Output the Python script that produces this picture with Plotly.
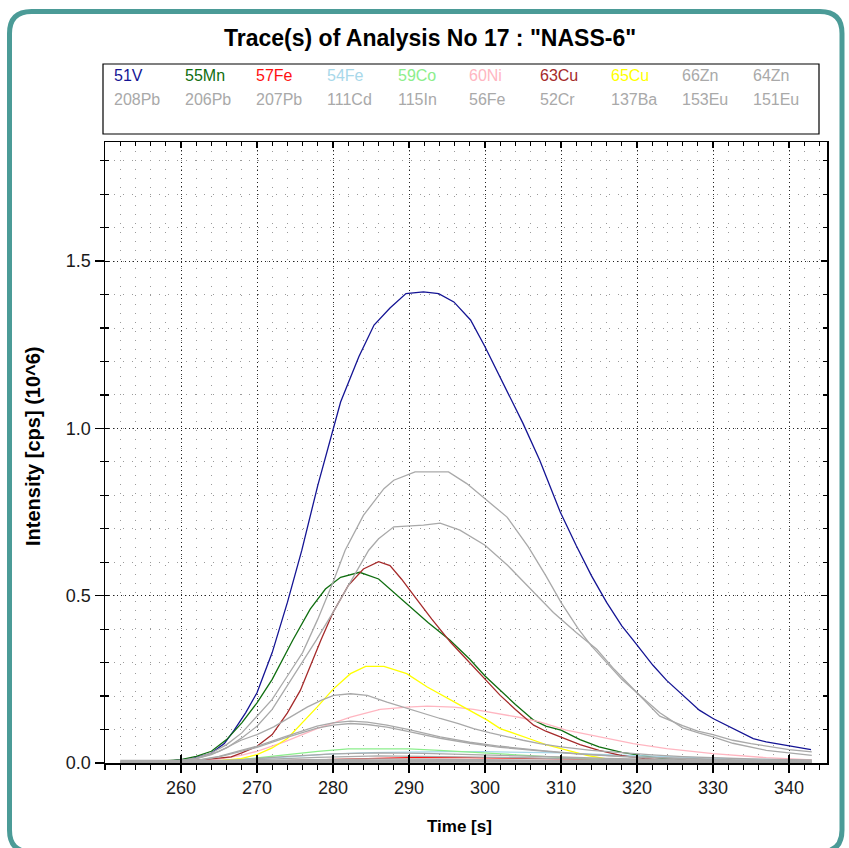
import plotly.graph_objects as go

# ---------------- data ----------------
NAMES = ["51V", "55Mn", "57Fe", "54Fe", "59Co", "60Ni", "63Cu", "65Cu", "66Zn", "64Zn",
         "208Pb", "206Pb", "207Pb", "111Cd", "115In", "56Fe", "52Cr", "137Ba", "153Eu", "151Eu"]
COLORS = ["#141494", "#0f6e0f", "#ff1010", "#a8d8ea", "#8cee8c", "#ffb6c1", "#a52a2a", "#ffff00",
          "#a9a9a9", "#a9a9a9", "#a9a9a9", "#a9a9a9", "#a9a9a9", "#a9a9a9", "#a9a9a9",
          "#a9a9a9", "#a9a9a9", "#a9a9a9", "#a9a9a9", "#a9a9a9"]

T_51V = [252, 255, 256.7, 258.7, 261.3, 263.9, 265.7, 267, 268.5, 270, 272, 274, 275.9, 278, 280.1, 281,
         283.4, 285.4, 287.5, 289.6, 291.9, 293.9, 295.9, 298.1, 300, 302.4, 305, 307.2, 309.9, 312, 314,
         316, 318, 319.5, 322.1, 323.9, 325.8, 328.2, 330, 332.6, 335.3, 337, 340.1, 342.9]
V_51V = [0.002, 0.002, 0.003, 0.006, 0.013, 0.028, 0.058, 0.098, 0.15, 0.21, 0.33, 0.48, 0.636, 0.83, 1.005,
         1.079, 1.214, 1.309, 1.36, 1.403, 1.408, 1.403, 1.378, 1.324, 1.244, 1.134, 1.015, 0.905, 0.75,
         0.65, 0.56, 0.48, 0.41, 0.367, 0.292, 0.247, 0.207, 0.158, 0.133, 0.103, 0.073, 0.063, 0.05, 0.04]

T_55Mn = [252, 256, 260, 262, 264, 266, 268, 270, 272, 274.7, 277, 279, 281, 283.5, 286, 288, 290, 292.5,
          295.4, 298, 300, 302, 304, 306.4, 308, 310, 312.5, 315, 318, 320.4, 323, 326.5, 330, 335, 340, 343]
V_55Mn = [0.001, 0.003, 0.01, 0.02, 0.035, 0.07, 0.12, 0.18, 0.25, 0.367, 0.46, 0.52, 0.555, 0.57, 0.55, 0.51,
          0.47, 0.42, 0.367, 0.31, 0.26, 0.217, 0.175, 0.128, 0.11, 0.098, 0.07, 0.048, 0.032, 0.023, 0.015,
          0.008, 0.005, 0.003, 0.002, 0.002]

T_57Fe = [252, 266, 270, 275, 280, 285, 290, 295, 300, 305, 310, 315, 320, 330, 343]
V_57Fe = [0.0, 0.003, 0.005, 0.008, 0.011, 0.014, 0.016, 0.017, 0.016, 0.015, 0.013, 0.011, 0.009, 0.006, 0.004]

T_54Fe = [252, 262, 266, 270, 275, 280, 285, 290, 295, 300, 305, 310, 315, 320, 325, 330, 335, 340, 343]
V_54Fe = [0.0, 0.002, 0.006, 0.012, 0.02, 0.027, 0.031, 0.033, 0.034, 0.034, 0.033, 0.03, 0.026, 0.022,
          0.018, 0.014, 0.011, 0.009, 0.008]

T_59Co = [252, 262, 266, 270, 274, 278, 282, 286, 290, 294, 298, 302, 306, 310, 315, 320, 330, 343]
V_59Co = [0.0, 0.003, 0.008, 0.015, 0.025, 0.035, 0.042, 0.043, 0.042, 0.038, 0.033, 0.028, 0.022, 0.016,
          0.01, 0.007, 0.004, 0.002]

T_60Ni = [252, 258, 262, 265, 267.9, 270, 273.6, 277.9, 282.3, 286.2, 289.7, 292.4, 295.9, 298.5, 302, 304.6,
          307.2, 310.7, 315.1, 319.5, 323.9, 330, 337, 343]
V_60Ni = [0.001, 0.003, 0.006, 0.012, 0.023, 0.035, 0.063, 0.103, 0.137, 0.16, 0.167, 0.17, 0.167, 0.16,
          0.146, 0.136, 0.123, 0.098, 0.078, 0.058, 0.043, 0.028, 0.016, 0.009]

T_63Cu = [252, 256, 260, 263, 266.6, 268, 270, 272, 274, 275.7, 277, 278.4, 280, 282, 284, 286, 287.5, 289,
          291, 293, 295.5, 298, 300, 302, 304, 306.4, 308, 310, 312.5, 315, 318, 321, 325, 330, 343]
V_63Cu = [0.002, 0.003, 0.005, 0.01, 0.018, 0.03, 0.05, 0.085, 0.15, 0.217, 0.29, 0.367, 0.45, 0.53, 0.58,
          0.602, 0.59, 0.55, 0.49, 0.43, 0.36, 0.3, 0.25, 0.202, 0.16, 0.113, 0.095, 0.078, 0.055, 0.038,
          0.022, 0.013, 0.007, 0.004, 0.002]

T_65Cu = [252, 260, 264, 267.9, 270, 272, 274, 276, 277.9, 280, 282.3, 284.3, 286.7, 289.7, 292.4, 296.3,
          300.3, 302, 304, 306.4, 308, 310.7, 313.4, 316, 320, 325, 343]
V_65Cu = [0.001, 0.002, 0.005, 0.013, 0.025, 0.045, 0.073, 0.12, 0.167, 0.22, 0.267, 0.289, 0.289, 0.267,
          0.227, 0.178, 0.128, 0.103, 0.088, 0.068, 0.055, 0.038, 0.023, 0.012, 0.007, 0.004, 0.002]

T_66Zn = [252, 256, 260, 262, 264, 266, 268, 270, 272, 274, 276, 278, 280, 281.6, 284, 286.7, 288, 290.8,
          295.2, 297.6, 300.2, 302.9, 305.7, 308, 310, 312.3, 314, 316, 318, 320, 323, 326, 328, 330,
          332.6, 335, 337, 340, 343]
V_66Zn = [0.002, 0.003, 0.008, 0.015, 0.03, 0.055, 0.09, 0.14, 0.19, 0.26, 0.33, 0.43, 0.54, 0.636, 0.74, 0.82,
          0.845, 0.87, 0.87, 0.835, 0.785, 0.735, 0.646, 0.56, 0.48, 0.40, 0.35, 0.30, 0.25, 0.21, 0.14,
          0.112, 0.095, 0.085, 0.068, 0.058, 0.05, 0.04, 0.033]

T_64Zn = [252, 256, 260, 262, 264, 266, 268, 270, 272, 274, 276, 277.8, 280, 282, 284.7, 286, 288, 291.9,
          294.1, 296.7, 300, 303, 306, 309, 312, 314.7, 317, 320, 323, 326, 328.2, 330, 332.6,
          335, 337, 340, 343]
V_64Zn = [0.002, 0.003, 0.007, 0.013, 0.025, 0.045, 0.075, 0.11, 0.16, 0.23, 0.30, 0.367, 0.45, 0.53, 0.636,
          0.67, 0.706, 0.711, 0.717, 0.696, 0.651, 0.59, 0.52, 0.45, 0.39, 0.34, 0.28, 0.21,
          0.15, 0.105, 0.089, 0.078, 0.059, 0.048, 0.038, 0.03, 0.023]

T_208Pb = [252, 258, 262, 265, 267.9, 270, 272.2, 274.5, 276.6, 278.5, 280.1, 282.3, 284.5, 287.1, 289.7,
           292, 294.1, 296.5, 298.5, 300.7, 302.9, 305, 307.2, 310, 314, 318, 322, 326, 330, 335, 340, 343]
V_208Pb = [0.002, 0.004, 0.012, 0.035, 0.068, 0.085, 0.108, 0.14, 0.167, 0.188, 0.202, 0.207, 0.202, 0.182,
           0.163, 0.148, 0.133, 0.118, 0.103, 0.09, 0.078, 0.068, 0.058, 0.048, 0.038, 0.03, 0.024, 0.019,
           0.015, 0.012, 0.01, 0.009]

T_206Pb = [252, 258, 262, 265, 267.9, 270, 273.6, 277.9, 280, 282.3, 284.5, 287.1, 290, 294.1, 298, 302,
           307.2, 312, 318, 325, 333, 343]
V_206Pb = [0.001, 0.003, 0.008, 0.02, 0.038, 0.05, 0.078, 0.11, 0.12, 0.125, 0.122, 0.113, 0.1, 0.078,
           0.062, 0.05, 0.038, 0.028, 0.02, 0.014, 0.009, 0.006]

T_207Pb = [252, 258, 262, 265, 267.9, 270, 273.6, 277.9, 280, 282.3, 284.5, 287.1, 290, 294.1, 298, 302,
           307.2, 312, 318, 325, 333, 343]
V_207Pb = [0.001, 0.003, 0.007, 0.018, 0.035, 0.047, 0.074, 0.104, 0.113, 0.118, 0.115, 0.107, 0.094, 0.074,
           0.059, 0.047, 0.036, 0.027, 0.019, 0.013, 0.008, 0.005]

T_111Cd = [252, 270, 285, 300, 320, 343]
V_111Cd = [0.001, 0.002, 0.004, 0.003, 0.002, 0.001]

T_115In = [252, 270, 290, 310, 330, 343]
V_115In = [0.008, 0.008, 0.007, 0.007, 0.006, 0.006]

T_56Fe = [252, 262, 268, 274, 280, 286, 292, 298, 304, 310, 316, 322, 330, 343]
V_56Fe = [0.001, 0.003, 0.01, 0.02, 0.027, 0.03, 0.029, 0.026, 0.022, 0.018, 0.014, 0.011, 0.008, 0.005]

T_52Cr = [252, 262, 270, 278, 286, 294, 302, 310, 320, 330, 343]
V_52Cr = [0.002, 0.004, 0.01, 0.017, 0.021, 0.02, 0.017, 0.013, 0.009, 0.006, 0.004]

T_137Ba = [252, 265, 275, 285, 295, 305, 315, 330, 343]
V_137Ba = [0.004, 0.005, 0.009, 0.012, 0.011, 0.009, 0.007, 0.005, 0.004]

T_153Eu = [252, 270, 285, 300, 320, 343]
V_153Eu = [0.003, 0.004, 0.006, 0.005, 0.004, 0.003]

T_151Eu = [252, 270, 285, 300, 320, 343]
V_151Eu = [0.003, 0.005, 0.007, 0.006, 0.004, 0.003]

SERIES = {
    "51V": (T_51V, V_51V), "55Mn": (T_55Mn, V_55Mn), "57Fe": (T_57Fe, V_57Fe), "54Fe": (T_54Fe, V_54Fe),
    "59Co": (T_59Co, V_59Co), "60Ni": (T_60Ni, V_60Ni), "63Cu": (T_63Cu, V_63Cu), "65Cu": (T_65Cu, V_65Cu),
    "66Zn": (T_66Zn, V_66Zn), "64Zn": (T_64Zn, V_64Zn), "208Pb": (T_208Pb, V_208Pb),
    "206Pb": (T_206Pb, V_206Pb), "207Pb": (T_207Pb, V_207Pb), "111Cd": (T_111Cd, V_111Cd),
    "115In": (T_115In, V_115In), "56Fe": (T_56Fe, V_56Fe), "52Cr": (T_52Cr, V_52Cr),
    "137Ba": (T_137Ba, V_137Ba), "153Eu": (T_153Eu, V_153Eu), "151Eu": (T_151Eu, V_151Eu),
}

X_TICKS = [260, 270, 280, 290, 300, 310, 320, 330, 340]
Y_TICKS = [0.0, 0.5, 1.0, 1.5]
Y_TICK_LABELS = ["0.0", "0.5", "1.0", "1.5"]

TITLE = 'Trace(s) of Analysis No 17 : "NASS-6"'
X_TITLE = "Time [s]"
Y_TITLE = "Intensity [cps] (10^6)"

# ---------------- layout geometry ----------------
FW, FH = 849, 848
L, R, T, B = 105, 827, 142, 763
PW, PH = R - L, B - T
FONT = "Liberation Sans, Arial, sans-serif"


def px2x(px):
    return (px - L) / PW


def py2y(py):
    return (B - py) / PH


fig = go.Figure()

for name in NAMES:
    t, v = SERIES[name]
    col = COLORS[NAMES.index(name)]
    fig.add_trace(go.Scatter(x=t, y=v, mode="lines", name=name,
                             line=dict(color=col, width=1.3), showlegend=False,
                             hoverinfo="skip"))

# empty traces to activate the overlay axes
fig.add_trace(go.Scatter(x=[None], y=[None], xaxis="x2", yaxis="y", showlegend=False, hoverinfo="skip"))
fig.add_trace(go.Scatter(x=[None], y=[None], xaxis="x3", yaxis="y", showlegend=False, hoverinfo="skip"))
fig.add_trace(go.Scatter(x=[None], y=[None], xaxis="x", yaxis="y2", showlegend=False, hoverinfo="skip"))
fig.add_trace(go.Scatter(x=[None], y=[None], xaxis="x", yaxis="y3", showlegend=False, hoverinfo="skip"))

XR = [250, 345]
YR = [0, 1.856]

tickfont = dict(family=FONT, size=18, color="#1a1a1a")

fig.update_layout(
    width=FW, height=FH,
    margin=dict(l=L, r=FW - R, t=T, b=FH - B),
    paper_bgcolor="white", plot_bgcolor="white",
    showlegend=False,
    xaxis=dict(range=XR, tickmode="array", tickvals=X_TICKS, ticktext=[str(v) for v in X_TICKS],
               ticks="outside", ticklen=8, tickwidth=1.3, tickcolor="black",
               showline=True, linecolor="black", linewidth=1.5,
               showgrid=True, gridcolor="#222", griddash="1px,3px", gridwidth=1,
               minor=dict(tick0=250, dtick=2, ticks="outside", ticklen=5, tickwidth=1.2, tickcolor="black",
                          showgrid=True, gridcolor="#9a9a9a", griddash="1px,8px", gridwidth=1),
               zeroline=False, tickfont=tickfont, fixedrange=True),
    xaxis2=dict(range=XR, overlaying="x", side="bottom", anchor="y", tickmode="array", tickvals=X_TICKS,
                ticks="inside", ticklen=8, tickwidth=1.3, tickcolor="black", showticklabels=False,
                showgrid=False, zeroline=False, showline=False),
    xaxis3=dict(range=XR, overlaying="x", side="top", anchor="y", tickmode="array", tickvals=X_TICKS,
                ticks="inside", ticklen=6, tickwidth=1.3, tickcolor="black", showticklabels=False,
                minor=dict(tick0=250, dtick=2, ticks="inside", ticklen=4, tickwidth=1.2, tickcolor="black"),
                showgrid=False, zeroline=False, showline=True, linecolor="black", linewidth=1.5),
    yaxis=dict(range=YR, tickmode="array", tickvals=Y_TICKS, ticktext=Y_TICK_LABELS,
               ticks="outside", ticklen=9, tickwidth=1.3, tickcolor="black",
               showline=True, linecolor="black", linewidth=1.5,
               showgrid=True, gridcolor="#222", griddash="1px,3px", gridwidth=1,
               minor=dict(tick0=0, dtick=0.1, ticks="outside", ticklen=4, tickwidth=1.2, tickcolor="black",
                          showgrid=True, gridcolor="#9a9a9a", griddash="1px,8px", gridwidth=1),
               zeroline=False, tickfont=tickfont, fixedrange=True),
    yaxis2=dict(range=YR, overlaying="y", side="left", anchor="x", tick0=0, dtick=0.1,
                ticks="inside", ticklen=4, tickwidth=1.2, tickcolor="black", showticklabels=False,
                showgrid=False, zeroline=False, showline=False),
    yaxis3=dict(range=YR, overlaying="y", side="right", anchor="x", tickmode="array", tickvals=Y_TICKS,
                ticks="inside", ticklen=6, tickwidth=1.3, tickcolor="black", showticklabels=False,
                minor=dict(tick0=0, dtick=0.1, ticks="inside", ticklen=4, tickwidth=1.2, tickcolor="black"),
                showgrid=False, zeroline=False, showline=True, linecolor="black", linewidth=1.5),
)

# title
fig.add_annotation(text="<b>" + TITLE + "</b>", xref="paper", yref="paper",
                   x=px2x(430), y=py2y(38), xanchor="center", yanchor="middle", showarrow=False,
                   font=dict(family=FONT, size=23, color="black"))
# axis titles
fig.add_annotation(text="<b>" + X_TITLE + "</b>", xref="paper", yref="paper",
                   x=px2x(459), y=py2y(826), xanchor="center", yanchor="middle", showarrow=False,
                   font=dict(family=FONT, size=17, color="black"))
fig.add_annotation(text="<b>" + Y_TITLE + "</b>", xref="paper", yref="paper",
                   x=px2x(33), y=py2y(446), xanchor="center", yanchor="middle", showarrow=False,
                   textangle=-90, font=dict(family=FONT, size=20, color="black"))

# legend box and entries
fig.add_shape(type="rect", xref="paper", yref="paper", x0=px2x(103), x1=px2x(819),
              y0=py2y(134), y1=py2y(64), line=dict(color="black", width=1.2), fillcolor="white",
              layer="below")
for i, name in enumerate(NAMES):
    row, colidx = divmod(i, 10)
    fig.add_annotation(text=name, xref="paper", yref="paper",
                       x=px2x(112 + 71 * colidx), y=py2y(76 + 24 * row),
                       xanchor="left", yanchor="middle", showarrow=False,
                       font=dict(family=FONT, size=16, color=COLORS[i]))

# rounded teal frame around the whole picture
fl, fr, ft, fb, rad = 9.5, 842, 11.5, 852, 22


def P(px, py):
    return f"{px2x(px):.5f},{py2y(py):.5f}"


path = (f"M {P(fl, ft + rad)} Q {P(fl, ft)} {P(fl + rad, ft)} L {P(fr - rad, ft)} "
        f"Q {P(fr, ft)} {P(fr, ft + rad)} L {P(fr, fb - rad)} Q {P(fr, fb)} {P(fr - rad, fb)} "
        f"L {P(fl + rad, fb)} Q {P(fl, fb)} {P(fl, fb - rad)} Z")
fig.add_shape(type="path", xref="paper", yref="paper", path=path,
              line=dict(color="#4b9b97", width=5), layer="above")

fig.write_html("out.html", config={"displayModeBar": False, "staticPlot": True},
               post_script="document.body.style.margin='0';document.body.style.overflow='hidden';")
